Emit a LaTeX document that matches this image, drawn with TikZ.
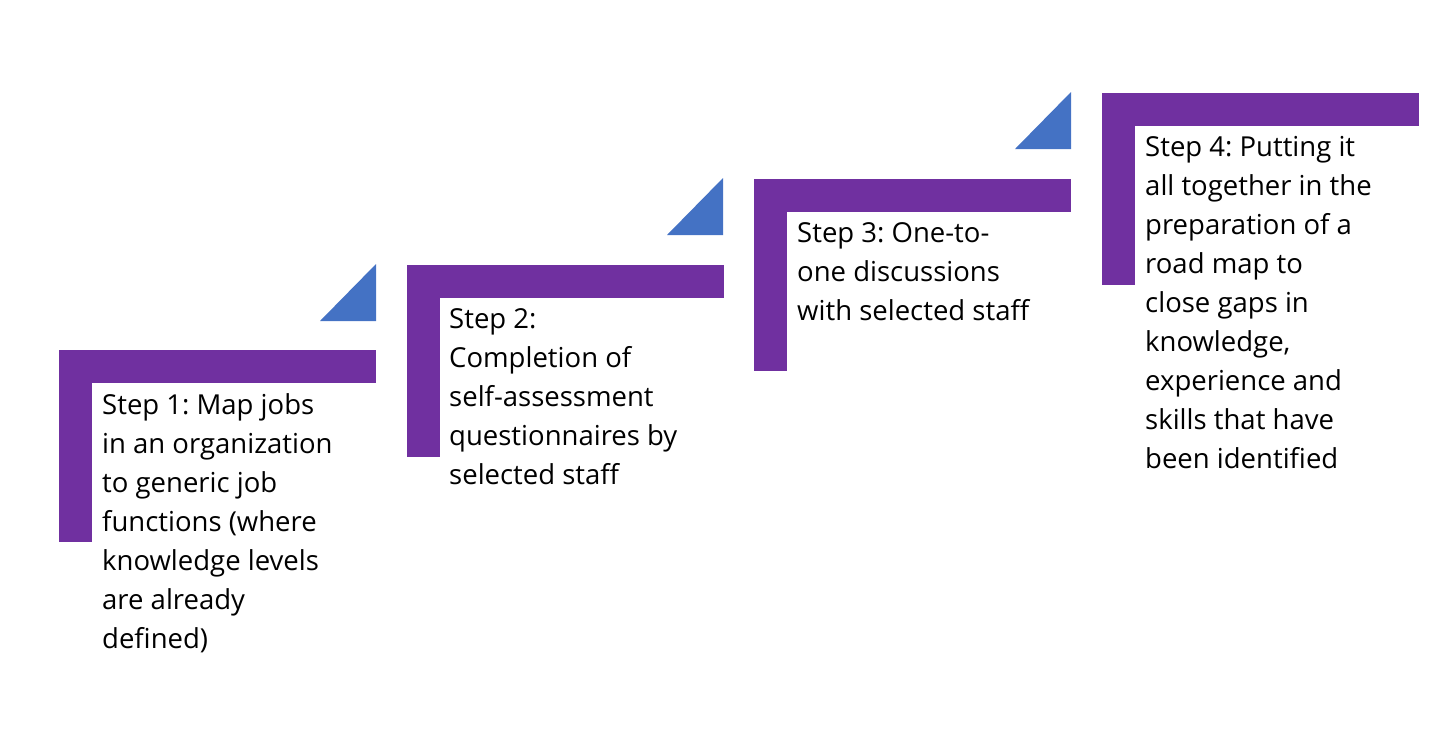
\documentclass[tikz,border=0pt]{standalone}
\usepackage{fontspec}
\setmainfont{Open Sans}
\usetikzlibrary{positioning}
\definecolor{stepPurple}{HTML}{7030A0}
\definecolor{stepBlue}{HTML}{4472C4}
\frenchspacing
\begin{document}
\begin{tikzpicture}[x=1pt, y=-1pt,
    bar/.style={fill=stepPurple, draw=none},
    tri/.style={fill=stepBlue, draw=none},
    steptext/.style={anchor=north west, inner sep=0pt, align=left,
      font=\fontsize{27.5}{39}\selectfont}]
  \useasboundingbox (0,0) rectangle (1440,731);

  % the four stairs
  \foreach \x/\y in {59/350, 407/265, 754/179, 1102/93}{
    \fill[bar] (\x,\y) rectangle ++(317,33);
    \fill[bar] (\x,\y) rectangle ++(33,192);
  }
  \foreach \x/\y in {376/321, 723/235, 1071/149}{
    \fill[tri] (\x,\y) -- ++(-56,0) -- ++(56,-57) -- cycle;
  }

  \node[steptext] (s1) at (102,393) {Step 1: Map jobs\\in an organization\\to generic job\\functions (where\\knowledge levels\\are already\\defined)};
  \node[steptext] (s2) at (449,308) {Step 2:\\Completion of\\self-assessment\\questionnaires by\\selected staff};
  \node[steptext] (s3) at (797,222) {Step 3: One-to-\\one discussions\\with selected staff};
  \node[steptext] (s4) at (1145,136) {Step 4: Putting it\\all together in the\\preparation of a\\road map to\\close gaps in\\knowledge,\\experience and\\skills that have\\been identified};
\end{tikzpicture}
\end{document}
